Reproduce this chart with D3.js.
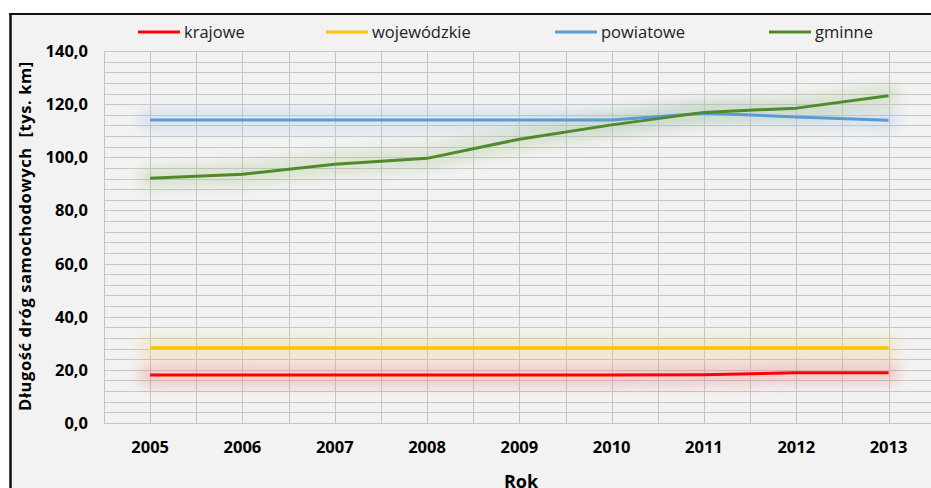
<!DOCTYPE html>
<html>
<head>
<meta charset="utf-8">
<script src="https://cdn.jsdelivr.net/npm/d3@7"></script>
<style>
  body { margin: 0; background: #fff; }
  svg { display: block; }
  text { font-family: "Open Sans", Lato, sans-serif; }
</style>
</head>
<body>
<svg id="chart" width="931" height="488"></svg>
<script>
// data
var years = ["2005", "2006", "2007", "2008", "2009", "2010", "2011", "2012", "2013"];
var krajowe = [18.1, 18.1, 18.1, 18.1, 18.1, 18.1, 18.2, 18.9, 18.9];
var wojewodzkie = [28.3, 28.3, 28.3, 28.3, 28.3, 28.3, 28.3, 28.3, 28.3];
var powiatowe = [114.0, 114.0, 114.0, 114.0, 114.0, 114.0, 116.6, 115.2, 113.9];
var gminne = [92.1, 93.6, 97.4, 99.6, 106.8, 112.2, 116.9, 118.5, 123.2];
var seriesNames = ["krajowe", "wojewódzkie", "powiatowe", "gminne"];
var yTicks = [0, 20, 40, 60, 80, 100, 120, 140];

var series = [
    {name: seriesNames[0], values: krajowe, color: "#ff0000", glow: "#f07878"},
    {name: seriesNames[1], values: wojewodzkie, color: "#ffc000", glow: "#f0d27a"},
    {name: seriesNames[2], values: powiatowe, color: "#5b9bd5", glow: "#a9c4e0"},
    {name: seriesNames[3], values: gminne, color: "#4f8a2b", glow: "#a9c48c"}
];

var svg = d3.select("#chart");

// chart background + frame
svg.append("rect").attr("x", 10).attr("y", 14).attr("width", 921).attr("height", 474)
    .attr("fill", "#f2f2f2");
svg.append("line").attr("x1", 9).attr("x2", 931).attr("y1", 14).attr("y2", 14)
    .attr("stroke", "#111").attr("stroke-width", 2);
svg.append("line").attr("x1", 10.5).attr("x2", 10.5).attr("y1", 13).attr("y2", 488)
    .attr("stroke", "#111").attr("stroke-width", 2.5);

var plotLeft = 104, plotTop = 51, plotBottom = 423;
var step = 92.3;

var x = d3.scaleBand()
    .domain(years)
    .range([plotLeft, plotLeft + step * years.length]);

var cx = function (d) {
    return x(d) + x.bandwidth() / 2;
};

var y = d3.scaleLinear()
    .domain([0, 140])
    .range([plotBottom, plotTop]);

var g = svg.append("g");

// horizontal grid, one line every 4 units
g.selectAll("line.hgrid")
    .data(d3.range(0, 141, 4))
    .enter().append("line")
    .attr("class", "hgrid")
    .attr("x1", plotLeft).attr("x2", 931)
    .attr("y1", function (d) { return Math.round(y(d)) + 0.5; })
    .attr("y2", function (d) { return Math.round(y(d)) + 0.5; })
    .attr("stroke", "#c6c6c6")
    .attr("stroke-width", 1);

// vertical grid, on every category and between them
var vx = [];
years.forEach(function (d) {
    vx.push(x(d));
    vx.push(cx(d));
});
g.selectAll("line.vgrid")
    .data(vx)
    .enter().append("line")
    .attr("class", "vgrid")
    .attr("x1", function (d) { return Math.round(d) + 0.5; })
    .attr("x2", function (d) { return Math.round(d) + 0.5; })
    .attr("y1", plotTop).attr("y2", plotBottom)
    .attr("stroke", "#c6c6c6")
    .attr("stroke-width", 1);

// y tick labels
g.selectAll("text.ytick")
    .data(yTicks)
    .enter().append("text")
    .attr("class", "ytick")
    .attr("x", 88)
    .attr("y", function (d) { return y(d); })
    .attr("dy", "0.36em")
    .attr("text-anchor", "end")
    .style("font-size", "16.5px")
    .style("font-weight", "bold")
    .attr("fill", "#000")
    .text(function (d) { return d3.format(".1f")(d).replace(".", ","); });

// x tick labels
g.selectAll("text.xtick")
    .data(years)
    .enter().append("text")
    .attr("class", "xtick")
    .attr("x", cx)
    .attr("y", 453)
    .attr("text-anchor", "middle")
    .style("font-size", "16.5px")
    .style("font-weight", "bold")
    .attr("fill", "#000")
    .text(function (d) { return d; });

// axis titles
svg.append("text")
    .attr("x", 521).attr("y", 488)
    .attr("text-anchor", "middle")
    .style("font-size", "18px")
    .style("font-weight", "bold")
    .text("Rok");

svg.append("text")
    .attr("transform", "translate(31,236) rotate(-90)")
    .attr("text-anchor", "middle")
    .style("font-size", "16.5px")
    .style("font-weight", "bold")
    .style("letter-spacing", "0.6px")
    .style("white-space", "pre")
    .text("Długość dróg samochodowych  [tys. km]");

// glow filter (user space, flat lines have a zero-height bbox)
var defs = svg.append("defs");
defs.append("filter")
    .attr("id", "glow")
    .attr("filterUnits", "userSpaceOnUse")
    .attr("x", 0).attr("y", 0)
    .attr("width", 931).attr("height", 488)
    .append("feGaussianBlur")
    .attr("stdDeviation", 6);

var line = d3.line()
    .x(function (d, i) { return cx(years[i]); })
    .y(function (d) { return y(d); });

series.forEach(function (s) {
    g.append("path")
        .datum(s.values)
        .attr("fill", "none")
        .attr("stroke", s.glow)
        .attr("stroke-width", 24)
        .attr("stroke-linecap", "round")
        .attr("stroke-linejoin", "round")
        .attr("opacity", 0.3)
        .attr("filter", "url(#glow)")
        .attr("d", line);
});

series.forEach(function (s) {
    g.append("path")
        .datum(s.values)
        .attr("fill", "none")
        .attr("stroke", s.color)
        .attr("stroke-width", 3)
        .attr("stroke-linejoin", "round")
        .attr("d", line);
});

// legend
var legendX = [138, 326, 555, 769];
var lg = svg.selectAll("g.legend")
    .data(series)
    .enter().append("g")
    .attr("class", "legend")
    .attr("transform", function (d, i) { return "translate(" + legendX[i] + ",32)"; });

lg.append("line")
    .attr("x1", 0).attr("x2", 42)
    .attr("y1", 0).attr("y2", 0)
    .attr("stroke", function (d) { return d.color; })
    .attr("stroke-width", 3);

lg.append("text")
    .attr("x", 46)
    .attr("y", 0)
    .attr("dy", "0.35em")
    .style("font-size", "16.5px")
    .attr("fill", "#222")
    .text(function (d) { return d.name; });
</script>
</body>
</html>
